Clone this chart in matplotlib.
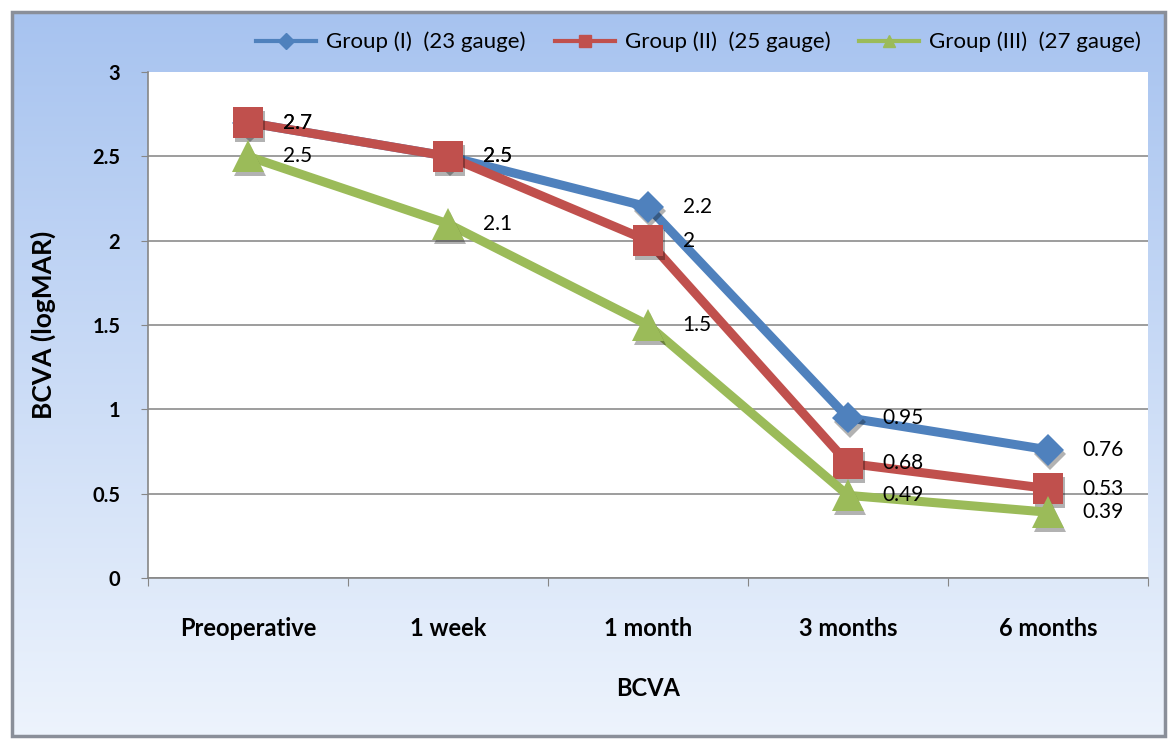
import numpy as np
import matplotlib
matplotlib.use('Agg')
import matplotlib.pyplot as plt
import matplotlib.patheffects as pe
from matplotlib.lines import Line2D
from matplotlib.patches import Rectangle

plt.rcParams['font.family'] = ['Lato', 'DejaVu Sans']

# data
categories = ['Preoperative', '1 week', '1 month', '3 months', '6 months']
group1 = [2.7, 2.5, 2.2, 0.95, 0.76]
group2 = [2.7, 2.5, 2.0, 0.68, 0.53]
group3 = [2.5, 2.1, 1.5, 0.49, 0.39]
series_names = ['Group (I)  (23 gauge)', 'Group (II)  (25 gauge)', 'Group (III)  (27 gauge)']
yticks = [0, 0.5, 1, 1.5, 2, 2.5, 3]

colors = ['#4f81bd', '#c0504d', '#9bbb59']
markers = ['D', 's', '^']
msizes = [16, 22, 23]

fig = plt.figure(figsize=(11.69, 7.40), dpi=100)
W, H = 1169, 740

# background panel with gradient
fx0, fx1, fy0, fy1 = 12 / W, 1165 / W, 4 / H, 728 / H
bg = fig.add_axes([fx0, fy0, fx1 - fx0, fy1 - fy0], zorder=0)
top = np.array([0.655, 0.765, 0.94])
bot = np.array([0.93, 0.955, 0.99])
t = np.linspace(0, 1, 256)[:, None]
grad = top + (bot - top) * t
bg.imshow(grad[:, None, :].repeat(2, axis=1), aspect='auto', extent=[0, 1, 0, 1], origin='upper')
bg.set_xlim(0, 1)
bg.set_ylim(0, 1)
bg.axis('off')
fig.add_artist(Rectangle((fx0, fy0), fx1 - fx0, fy1 - fy0, transform=fig.transFigure,
                         fill=False, edgecolor='#8a8f99', lw=2.5, zorder=1))

ax = fig.add_axes([148 / W, (740 - 578) / H, 1000 / W, 506 / H], zorder=2)
ax.set_facecolor('white')
x = np.arange(len(categories))

shadow = [pe.SimplePatchShadow(offset=(1.5, -3), shadow_rgbFace='k', alpha=0.3), pe.Normal()]
for i, (vals, c, m, ms) in enumerate(zip([group1, group2, group3], colors, markers, msizes)):
    ax.plot(x, vals, color=c, lw=6.5, solid_joinstyle='round', zorder=3 + i)
    ax.plot(x, vals, ls='none', marker=m, markersize=ms, color=c, markeredgewidth=0,
            path_effects=shadow, zorder=3 + i)
    for xi, v in zip(x, vals):
        ax.annotate(f'{v:g}', (xi, v), xytext=(25, 0), textcoords='offset points',
                    ha='left', va='center', fontsize=15, color='black', zorder=8)

ax.set_xlim(-0.5, len(categories) - 0.5)
ax.set_ylim(0, 3)
ax.set_yticks(yticks)
ax.set_yticklabels([f'{v:g}' for v in yticks], fontsize=14.5, fontweight='bold')
ax.set_xticks(np.arange(-0.5, len(categories), 1))
ax.set_xticklabels([])
ax.set_xticks(x, minor=True)
ax.set_xticklabels(categories, minor=True, fontsize=17, fontweight='bold')
ax.tick_params(axis='x', which='major', length=6, color='#868686', direction='out')
ax.tick_params(axis='x', which='minor', length=0, pad=28)
ax.tick_params(axis='y', length=5, color='#868686', direction='out', pad=15)
ax.yaxis.grid(True, color='#8c8c8c', lw=1.2)
ax.get_ygridlines()[-1].set_visible(False)
ax.set_axisbelow(True)
for s in ['top', 'right']:
    ax.spines[s].set_visible(False)
for s in ['left', 'bottom']:
    ax.spines[s].set_color('#868686')
    ax.spines[s].set_linewidth(1.2)

ax.set_ylabel('BCVA (logMAR)', fontsize=19, fontweight='bold', labelpad=26)
ax.set_xlabel('BCVA', fontsize=17, fontweight='bold', labelpad=27)

handles = [Line2D([], [], color=c, lw=3, marker=m, markersize=8) for c, m in zip(colors, markers)]
fig.legend(handles, series_names, loc='center right', bbox_to_anchor=(1150 / W, 1 - 42 / H),
           ncol=3, frameon=False, fontsize=16, handlelength=2.7, columnspacing=1.3,
           handletextpad=0.45, borderaxespad=0)

fig.savefig('out.png', dpi=100)
